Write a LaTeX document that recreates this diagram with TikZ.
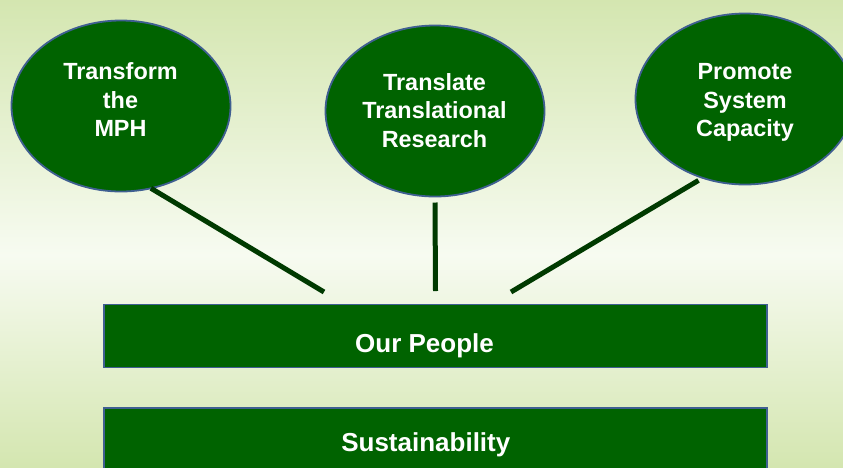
\documentclass[tikz,border=0pt]{standalone}
\usepackage{fontspec}
\setmainfont{Liberation Sans}
\usetikzlibrary{shapes.geometric}
\definecolor{bggreen}{RGB}{212,230,176}
\definecolor{bgmid}{RGB}{247,251,241}
\definecolor{nodegreen}{RGB}{0,99,0}
\definecolor{edgeblue}{RGB}{63,95,145}
\definecolor{linegreen}{RGB}{0,58,0}
\begin{document}
\begin{tikzpicture}[x=1pt,y=-1pt,
  goal/.style={ellipse, draw=edgeblue, line width=1.8pt, fill=nodegreen,
    minimum width=219pt, minimum height=171pt, inner sep=0pt, outer sep=0pt},
  bar/.style={rectangle, draw=edgeblue, line width=1.8pt, fill=nodegreen,
    minimum width=663pt, inner sep=0pt, outer sep=0pt},
  goaltext/.style={text=white, font=\bfseries\fontsize{23.4}{28.5}\selectfont,
    align=center, inner sep=0pt},
  bartext/.style={text=white, font=\bfseries\fontsize{26}{30}\selectfont,
    anchor=base, inner sep=0pt},
  conn/.style={draw=linegreen, line width=5pt}]
\useasboundingbox (0,0) rectangle (843,467);
\clip (0,0) rectangle (843,467);
\shade[top color=bggreen, bottom color=bgmid] (0,0) rectangle (843,255);
\shade[top color=bgmid, bottom color=bggreen] (0,254.5) rectangle (843,467);

\node[goal] (e1) at (121,106) {};
\node[goal] (e2) at (435,111) {};
\node[goal] (e3) at (745,99) {};
\node[goaltext] (t1) at (120.5,100) {Transform\\the\\MPH};
\node[goaltext] (t2) at (434.5,110.5) {Translate\\Translational\\Research};
\node[goaltext] (t3) at (745,102.5) {Promote\\System\\Capacity};

\node[bar, minimum height=63pt] (op) at (435.5,336) {};
\node[bar, minimum height=66pt] (su) at (435.5,441) {};
\node[bartext] (opt) at (424.5,352.7) {Our People};
\node[bartext] (sut) at (425.8,451.7) {Sustainability};

\coordinate (p1) at (324,292);
\coordinate (p2) at (435.5,291);
\coordinate (p3) at (511,292);
\draw[conn] (e1.-70) -- (p1);
\draw[conn] ([yshift=-6pt]e2.south) -- (p2);
\draw[conn] ([yshift=-4pt]e3.-121) -- (p3);
\end{tikzpicture}
\end{document}
